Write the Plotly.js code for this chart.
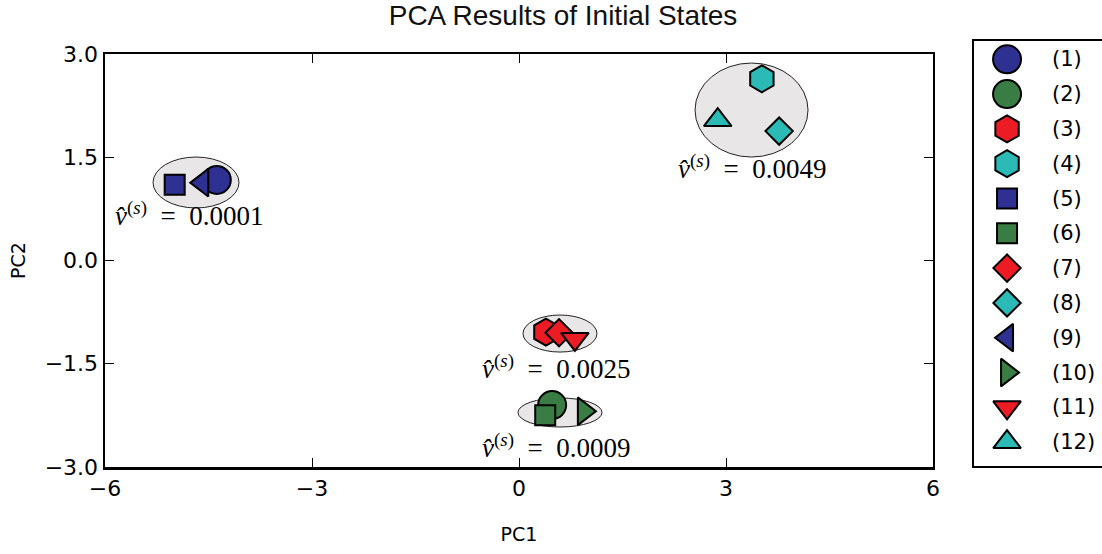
<!DOCTYPE html>
<html>
<head>
<meta charset="utf-8">
<script src="https://cdn.plot.ly/plotly-3.0.1.min.js"></script>
<style>
  html, body { margin: 0; padding: 0; background: #fff; }
  #chart { width: 1102px; height: 554px; }
</style>
</head>
<body>
<div id="chart"></div>
<script>
// Principal-component scores of the twelve initial states
const stateLabels = ["(1)", "(2)", "(3)", "(4)", "(5)", "(6)", "(7)", "(8)", "(9)", "(10)", "(11)", "(12)"];
const pc1 = [-4.38, 0.48, 0.39, 3.52, -4.99, 0.38, 0.58, 3.77, -4.59, 0.94, 0.81, 2.88];
const pc2 = [1.17, -2.10, -1.04, 2.64, 1.10, -2.25, -1.05, 1.88, 1.13, -2.19, -1.14, 2.04];
const symbols = ["circle", "circle", "hexagon", "hexagon", "square", "square",
                 "diamond", "diamond", "triangle-left", "triangle-right", "triangle-down", "triangle-up"];
const colors = ["#2e3192", "#3a7d44", "#ed1c24", "#2bbab6", "#2e3192", "#3a7d44",
                "#ed1c24", "#2bbab6", "#2e3192", "#3a7d44", "#ed1c24", "#2bbab6"];

// Clusters: centre, half-widths of the enclosing ellipse, and within-cluster variance
const clusterCx = [-4.681, 0.594, 0.594, 3.370];
const clusterCy = [1.133, -1.061, -2.208, 2.186];
const clusterRx = [0.623, 0.536, 0.609, 0.819];
const clusterRy = [0.370, 0.269, 0.211, 0.683];
const clusterVar = ["0.0001", "0.0025", "0.0009", "0.0049"];
const labelX = [-4.78, 0.53, 0.53, 3.37];
const labelY = [0.68, -1.55, -2.70, 1.36];

const xTicks = [-6, -3, 0, 3, 6];
const yTicks = [-3.0, -1.5, 0.0, 1.5, 3.0];

// marker size per symbol, in px
const symbolSize = {
  "circle": 28, "hexagon": 27, "square": 20, "diamond": 21,
  "triangle-left": 24, "triangle-right": 24, "triangle-down": 24, "triangle-up": 24
};

const traces = [];
stateLabels.forEach((name, i) => {
  traces.push({
    type: "scatter", mode: "markers", name: name,
    x: [pc1[i]], y: [pc2[i]], xaxis: "x", yaxis: "y",
    marker: { symbol: symbols[i], color: colors[i], size: symbolSize[symbols[i]],
              opacity: 1, line: { color: "#000", width: 2 } },
    showlegend: false, hoverinfo: "x+y+name"
  });
});

// key drawn in its own subplot so the symbols keep their full size
const keyRows = stateLabels.map((_, i) => i + 1);
traces.push({
  type: "scatter", mode: "markers",
  x: keyRows.map(() => 0.264), y: keyRows, xaxis: "x2", yaxis: "y2",
  marker: { symbol: symbols, color: colors, size: symbols.map(s => symbolSize[s]),
            opacity: 1, line: { color: "#000", width: 2 } },
  showlegend: false, hoverinfo: "skip"
});

const shapes = clusterCx.map((cx, k) => ({
  type: "circle", xref: "x", yref: "y", layer: "below",
  x0: cx - clusterRx[k], x1: cx + clusterRx[k],
  y0: clusterCy[k] - clusterRy[k], y1: clusterCy[k] + clusterRy[k],
  fillcolor: "#e8e6e6", line: { color: "#222", width: 1 }
}));
shapes.push({
  type: "rect", xref: "paper", yref: "paper",
  x0: 0.8706, x1: 1.03, y0: 0, y1: 1,
  line: { color: "#000", width: 2 }, fillcolor: "rgba(0,0,0,0)"
});

const annotations = clusterVar.map((v, k) => ({
  x: labelX[k], y: labelY[k], xref: "x", yref: "y",
  text: "<i>v\u0302</i><sup>(<i>s</i>)</sup>\u2002=\u2002" + v,
  showarrow: false, xanchor: "center", yanchor: "middle",
  font: { family: "Liberation Serif, serif", size: 27, color: "#000" }
}));
stateLabels.forEach((name, i) => {
  annotations.push({
    x: 0.595, y: i + 1, xref: "x2", yref: "y2", text: name,
    showarrow: false, xanchor: "left", yanchor: "middle",
    font: { family: "DejaVu Sans, sans-serif", size: 21, color: "#000" }
  });
});

const axisFont = { family: "DejaVu Sans, sans-serif", size: 22, color: "#000" };
const titleFont = { family: "DejaVu Sans, sans-serif", size: 19, color: "#000" };

const layout = {
  width: 1102, height: 554,
  margin: { l: 105, r: 0, t: 40, b: 87 },
  paper_bgcolor: "#fff", plot_bgcolor: "#fff",
  title: {
    text: "PCA Results of Initial States",
    x: 0.4594, xref: "paper", xanchor: "center",
    y: 0.972, yref: "container", yanchor: "middle",
    font: { family: "Liberation Sans, Arial, sans-serif", size: 28, color: "#111" }
  },
  xaxis: {
    domain: [0, 0.83049], anchor: "y", range: [-6, 6],
    tickvals: xTicks, ticktext: xTicks.map(v => v < 0 ? "\u2212" + Math.abs(v) : String(v)),
    ticks: "inside", ticklen: 9, tickwidth: 1, tickcolor: "#000",
    showline: true, linewidth: 2.5, linecolor: "#000", mirror: "ticks",
    showgrid: false, zeroline: false, tickfont: axisFont,
    title: { text: "PC1", standoff: 28, font: titleFont }
  },
  yaxis: {
    domain: [0, 0.96721], anchor: "x", range: [-3, 3],
    tickvals: yTicks, ticktext: yTicks.map(v => (v < 0 ? "\u2212" : "") + Math.abs(v).toFixed(1)),
    ticks: "inside", ticklen: 9, tickwidth: 1, tickcolor: "#000",
    showline: true, linewidth: 2.5, linecolor: "#000", mirror: "ticks",
    showgrid: false, zeroline: false, tickfont: axisFont,
    title: { text: "PC2", standoff: 14, font: titleFont }
  },
  xaxis2: {
    domain: [0.8706, 1], anchor: "y2", range: [0, 1],
    showline: false, showgrid: false, zeroline: false, showticklabels: false, ticks: ""
  },
  yaxis2: {
    domain: [0, 1], anchor: "x2", range: [12.715, 0.445],
    showline: false, showgrid: false, zeroline: false, showticklabels: false, ticks: ""
  },
  shapes: shapes,
  annotations: annotations,
  showlegend: false
};

Plotly.newPlot("chart", traces, layout, { displayModeBar: false, staticPlot: true });
</script>
</body>
</html>
